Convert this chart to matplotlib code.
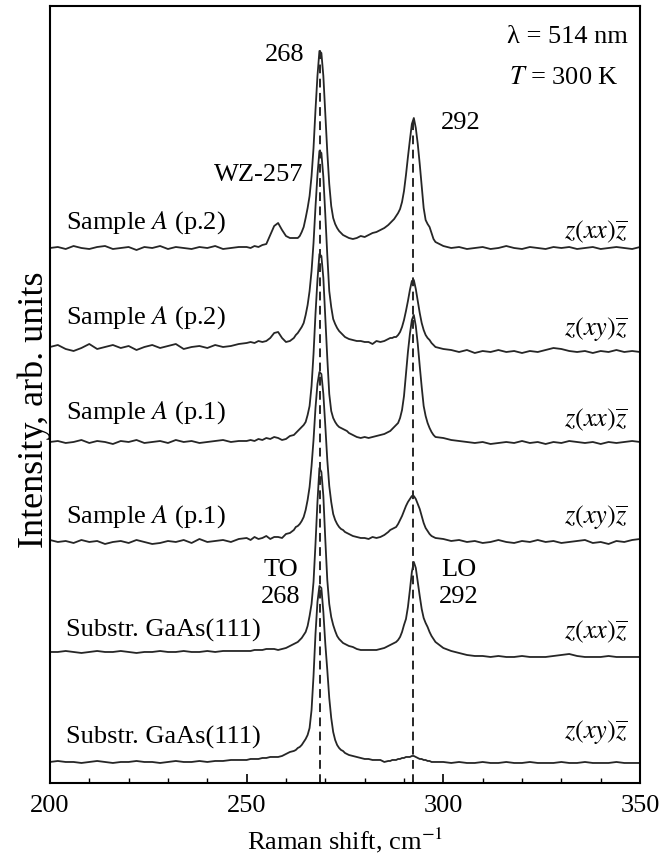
import matplotlib
matplotlib.use("Agg")
import matplotlib.pyplot as plt
import numpy as np

plt.rcParams['font.family'] = ['Liberation Serif', 'DejaVu Serif']
plt.rcParams['mathtext.fontset'] = 'stix'

# Raman shift sampling (cm^-1): coarse on the baseline, fine around the peaks
shift = np.concatenate([np.arange(200, 250, 2), np.arange(250, 262, 1),
                        np.arange(262, 276, 0.5), np.arange(276, 287, 1),
                        np.arange(286.5, 298.5, 0.5), np.arange(300, 351, 2)])

# intensity above each trace's own baseline (arb. units)
a_p2_xx = ([0, 1, -1, 2, 0, -1, 1, 2, -1, 0, 1, -2, 1, 0, 2, -1, 1, 0, -1, 1, 0, 2, -1, 0, 1]
           + [1, 0, 2, 1, 3, 4, 13, 22, 25, 18, 12, 10]
           + [10, 10, 10, 12, 16, 21, 30, 40, 52, 72, 100, 138, 172, 197, 195, 172, 134, 96, 64, 42,
              30, 24, 20, 17, 15, 13, 12, 11]
           + [10, 9, 10, 12, 11, 13, 15, 16, 18, 20, 23]
           + [25, 27, 29, 32, 35, 39, 46, 57, 73, 91, 108, 124, 130, 120, 104, 84, 62, 40, 28, 24,
              21, 15, 9, 6]
           + [2, 0, 1, -1, 0, 1, -1, 0, 2, 0, -1, 1, 0, -1, 1, 0, 1, -1, 0, 1, -1, 0, 1, 0, -1, 1])

a_p2_xy = ([0, 2, -2, -4, -1, 3, -2, 0, 2, -1, 1, -3, 0, 2, -1, 1, 3, -2, 0, 1, -1, 2, 0, 1, 3]
           + [4, 5, 4, 6, 5, 6, 9, 14, 15, 9, 5, 6]
           + [9, 12, 14, 17, 20, 24, 32, 42, 56, 76, 104, 140, 172, 196, 194, 170, 132, 92, 56, 40,
              28, 23, 19, 16, 14, 12, 10, 9]
           + [8, 7, 6, 6, 5, 5, 3, 6, 5, 6, 8]
           + [9, 9, 10, 10, 12, 15, 20, 27, 36, 46, 57, 66, 67, 58, 46, 34, 24, 17, 12, 9, 7, 4, 2, 0]
           + [-2, -3, -5, -3, -6, -4, -5, -3, -5, -4, -6, -4, -5, -3, -1, -2, -4, -5, -4, -6, -4,
              -5, -3, -5, -4, -5])

a_p1_xx = ([0, 1, -1, 0, 2, -1, 1, 0, -2, 1, 0, 2, -1, 0, 1, -1, 2, 0, 1, -1, 0, 1, 2, 0, 1]
           + [1, 2, 1, 3, 2, 4, 3, 5, 4, 2, 3, 6]
           + [7, 9, 11, 13, 15, 17, 20, 27, 36, 56, 88, 128, 162, 188, 186, 164, 124, 84, 48, 31,
              24, 20, 17, 15, 14, 13, 12, 11]
           + [9, 7, 5, 4, 5, 4, 5, 6, 7, 8, 10]
           + [11, 13, 15, 17, 19, 24, 32, 46, 68, 90, 108, 122, 127, 116, 98, 76, 55, 36, 26, 19,
              14, 10, 7, 5]
           + [4, 2, 1, 0, -1, 0, -2, -1, 0, -1, 1, -1, 0, -2, 0, -1, 1, 0, -1, 0, -2, 0, -1, 0, 1, 0])

a_p1_xy = ([2, 0, 1, -1, 2, 0, 1, -2, 0, 1, -1, 2, 0, -2, -1, 1, 0, 2, -1, 3, 0, 1, 2, 0, 3]
           + [4, 2, 5, 3, 4, 6, 3, 5, 5, 4, 8, 9]
           + [12, 15, 16, 18, 21, 25, 32, 42, 55, 76, 102, 134, 158, 170, 168, 148, 116, 82, 56, 40,
              28, 22, 18, 15, 13, 12, 10, 9]
           + [8, 6, 5, 4, 4, 3, 5, 4, 5, 7, 10]
           + [12, 13, 14, 15, 18, 22, 26, 31, 36, 40, 43, 46, 46, 43, 38, 33, 26, 19, 14, 11, 8, 6, 5, 4]
           + [3, 1, 2, 0, 1, -1, 0, 2, 0, -1, 1, 0, 2, 0, 1, -1, 0, 1, 2, -1, 0, -2, 1, 0, 2, 3])

sub_xx = ([0, 0, 1, 0, -1, 0, 1, 0, 0, 1, 0, -1, 0, 0, 1, 0, 0, 1, 0, 0, 1, 0, 1, 1, 1]
          + [1, 1, 2, 2, 2, 3, 3, 3, 2, 3, 4, 6]
          + [8, 9, 10, 12, 14, 17, 20, 26, 36, 48, 70, 108, 150, 184, 180, 156, 112, 72, 48, 35,
             27, 21, 16, 13, 11, 9, 8, 7]
          + [6, 5, 3, 2, 2, 2, 2, 2, 3, 4, 6]
          + [7, 8, 9, 10, 12, 15, 20, 27, 33, 45, 62, 80, 90, 84, 70, 56, 43, 34, 29, 25, 20, 16, 13, 10]
          + [4, 1, -1, -3, -4, -4, -5, -4, -5, -5, -4, -5, -5, -5, -4, -3, -2, -4, -5, -5, -5, -4,
             -5, -5, -5, -5])

sub_xy = ([0, 1, 0, 0, -1, 0, 1, 0, -1, 0, 0, 1, 0, 0, -1, 0, 1, 0, 0, 1, 0, 1, 1, 2, 2]
          + [2, 3, 3, 3, 4, 4, 5, 5, 5, 6, 8, 10]
          + [11, 12, 14, 15, 17, 20, 23, 27, 34, 52, 86, 128, 160, 176, 174, 150, 118, 92, 64, 44,
             30, 22, 17, 14, 12, 11, 9, 8]
          + [7, 6, 5, 4, 3, 3, 2, 2, 2, 0, 1]
          + [1, 2, 2, 2, 3, 3, 4, 4, 5, 5, 5, 6, 6, 5, 4, 3, 3, 2, 2, 1, 1, 0, 0, 0]
          + [0, -1, 0, -1, -1, 0, -1, -1, 0, -1, -1, 0, -1, -1, -1, 0, -1, -1, 0, -1, -1, -1, 0,
             -1, -1, -1])

spectra = [a_p2_xx, a_p2_xy, a_p1_xx, a_p1_xy, sub_xx, sub_xy]
offsets = [535, 436, 341, 241, 131, 21]
names = ['Sample $A$ (p.2)', 'Sample $A$ (p.2)', 'Sample $A$ (p.1)', 'Sample $A$ (p.1)',
         'Substr. GaAs(111)', 'Substr. GaAs(111)']
name_y = [560, 465, 370, 266, 153, 46]
geometry = [r'$z(xx)\overline{z}$', r'$z(xy)\overline{z}$', r'$z(xx)\overline{z}$',
            r'$z(xy)\overline{z}$', r'$z(xx)\overline{z}$', r'$z(xy)\overline{z}$']
geom_y = [551, 453, 363, 265, 151, 50]

peak_pos = [268.7, 292.4]
peak_top = [733, 665]

fig = plt.figure(figsize=(6.66, 8.59), dpi=100)
ax = fig.add_axes([0.075, 0.0885, 0.886, 0.9045])

for vals, off in zip(spectra, offsets):
    ax.plot(shift, off + np.array(vals), color='#262626', lw=1.3)

ax.vlines(peak_pos, 0, peak_top, colors='#262626', linestyles=(0, (4.5, 2.8)), lw=1.4)

fs = 19
for name, y in zip(names, name_y):
    ax.text(204.2, y, name, fontsize=fs, va='center', ha='left')
for g, y in zip(geometry, geom_y):
    ax.text(346.8, y, g, fontsize=fs, va='center', ha='right')

ax.text(316.2, 746, 'λ = 514 nm', fontsize=fs, va='center', ha='left')
ax.text(316.6, 705, '$T$ = 300 K', fontsize=fs, va='center', ha='left')
ax.text(264.6, 728, '268', fontsize=fs, va='center', ha='right')
ax.text(299.5, 660, '292', fontsize=fs, va='center', ha='left')
ax.text(264.4, 608, 'WZ-257', fontsize=fs, va='center', ha='right')
ax.text(258.7, 213, 'TO', fontsize=fs, va='center', ha='center')
ax.text(258.7, 186, '268', fontsize=fs, va='center', ha='center')
ax.text(304.0, 213, 'LO', fontsize=fs, va='center', ha='center')
ax.text(304.0, 186, '292', fontsize=fs, va='center', ha='center')

ax.set_xlim(200, 350)
ax.set_ylim(0, 777)
ax.set_xticks([200, 250, 300, 350])
ax.set_xticks(np.arange(210, 350, 10), minor=True)
ax.set_yticks([])
ax.tick_params(axis='x', which='major', direction='in', length=6.5, width=1.2,
               labelsize=fs, pad=9, top=False)
ax.tick_params(axis='x', which='minor', direction='in', length=3.8, width=1.0, top=False)
for s in ax.spines.values():
    s.set_linewidth(1.5)

ax.set_xlabel('Raman shift, cm$^{-1}$', fontsize=fs, labelpad=6)
ax.set_ylabel('Intensity, arb. units', fontsize=26)
ax.yaxis.set_label_coords(0.002, 0.48)

fig.savefig('out.png', dpi=100)
